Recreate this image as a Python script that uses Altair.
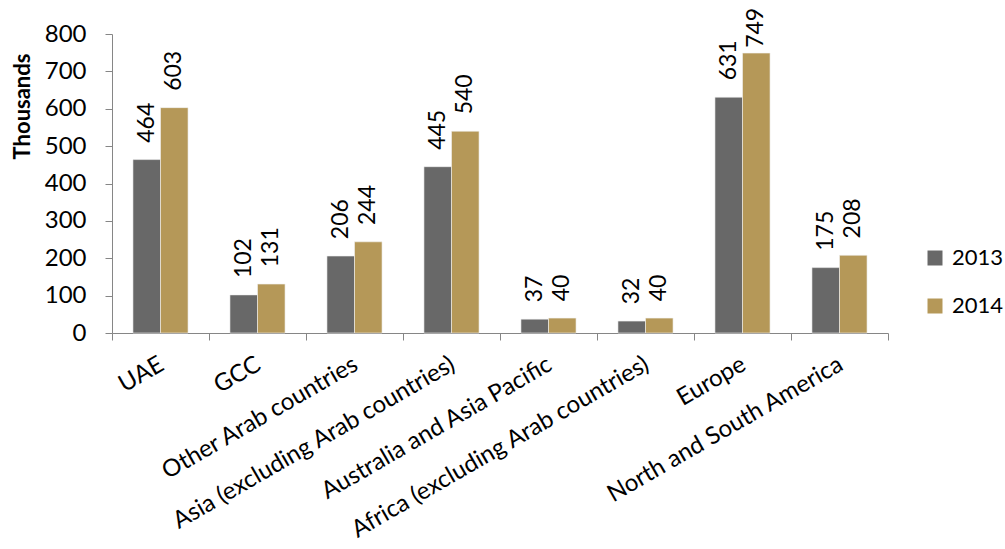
import altair as alt
import pandas as pd

categories = ["UAE", "GCC", "Other Arab countries", "Asia (excluding Arab countries)",
              "Australia and Asia Pacific", "Africa (excluding Arab countries)",
              "Europe", "North and South America"]
values_2013 = [464, 102, 206, 445, 37, 32, 631, 175]
values_2014 = [603, 131, 244, 540, 40, 40, 749, 208]
years = ["2013", "2014"]
colors = ["#686868", "#b59858"]

rows = []
for c, a, b in zip(categories, values_2013, values_2014):
    rows.append({"region": c, "year": years[0], "value": a})
    rows.append({"region": c, "year": years[1], "value": b})
df = pd.DataFrame(rows)

FONT = "Lato"

x_axis = alt.Axis(labelAngle=-30, labelAlign="right", labelBaseline="top",
                  labelFontSize=24, labelFont=FONT, labelColor="#000000",
                  labelPadding=12, labelOffset=-5, tickBand="extent", tickSize=7,
                  labelOverlap=False,
                  domainColor="#868686", tickColor="#868686", labelLimit=500)
y_axis = alt.Axis(values=list(range(0, 801, 100)), grid=False, tickSize=7,
                  labelOverlap=False, tickCount=9,
                  labelFontSize=24, labelFont=FONT, labelColor="#000000",
                  labelPadding=19, domainColor="#868686", tickColor="#868686",
                  titleFont=FONT, titleFontSize=22, titleFontWeight="bold",
                  titleColor="#000000", titleAngle=270, titleAlign="center",
                  titleBaseline="middle", titleX=-90, titleY=72)
x_scale = alt.Scale(paddingInner=0, paddingOuter=0)
y_scale = alt.Scale(domain=[0, 800], nice=False)

x = alt.X("region:N", sort=categories, title=None, scale=x_scale, axis=x_axis)
xo = alt.XOffset("year:N", scale=alt.Scale(paddingInner=0, paddingOuter=0.76))
color = alt.Color("year:N", scale=alt.Scale(domain=years, range=colors),
                  legend=alt.Legend(title=None, orient="none", legendX=812, legendY=213,
                                    symbolType="square", symbolSize=225, symbolStrokeWidth=0,
                                    labelFontSize=22, labelFont=FONT, labelColor="#000000",
                                    rowPadding=26, labelOffset=6))

bars = alt.Chart(df).mark_bar(stroke="#f2f2f2", strokeWidth=0.6).encode(
    x=x, xOffset=xo,
    y=alt.Y("value:Q", title="Thousands", scale=y_scale, axis=y_axis),
    color=color)
labels = alt.Chart(df).transform_calculate(
    label_y="min(datum.value + 45, 763)"
).mark_text(angle=270, align="left", baseline="middle",
            fontSize=23, font=FONT, color="#000000").encode(
    x=x, xOffset=xo,
    y=alt.Y("label_y:Q", title="Thousands", scale=y_scale, axis=y_axis),
    text="value:Q")

chart = alt.layer(bars, labels).properties(
    width=776, height=299,
    autosize=alt.AutoSizeParams(type="none"),
    padding={"left": 112, "top": 34, "right": 117, "bottom": 216},
    background="white"
).configure_view(stroke=None)

chart.save("out.html", embed_options={"renderer": "svg", "actions": False})
